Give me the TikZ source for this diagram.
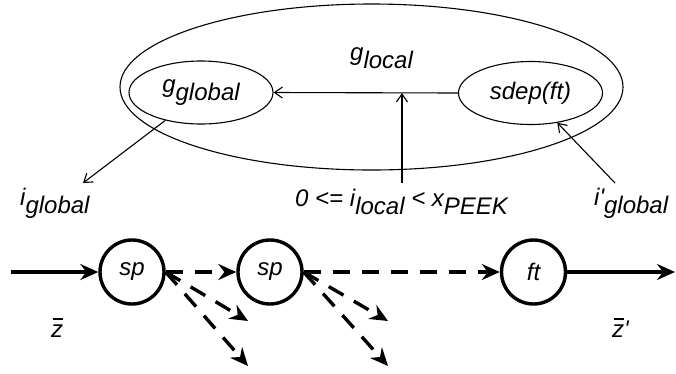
\documentclass[tikz,border=0pt]{standalone}
\usepackage{fontspec}
\setmainfont{Liberation Sans}
\usetikzlibrary{arrows.meta,shapes.geometric}
\newcommand\lowsub[1]{\raisebox{-8pt}{#1}}
\newcommand\barz{\makebox[0pt][l]{\hspace{1.5pt}\rule[17pt]{10.5pt}{2.2pt}}z}
\begin{document}
\begin{tikzpicture}[x=1pt,y=-1pt,
  txt/.style={font=\fontsize{24}{28}\selectfont\itshape, inner sep=0pt},
  oval/.style={draw, ellipse, line width=1.1pt, minimum width=144pt, minimum height=63pt, inner sep=0pt, font=\fontsize{24}{28}\selectfont\itshape},
  bigoval/.style={draw, ellipse, line width=1.1pt, minimum width=503pt, minimum height=166pt, inner sep=0pt},
  proc/.style={draw, circle, line width=3.4pt, minimum size=64pt, inner sep=0pt, font=\fontsize{24}{28}\selectfont\itshape},
  thinarrow/.style={line width=1.1pt, -{Straight Barb[length=8pt,width=11pt]}},
  thickarrow/.style={line width=3.4pt, -{Stealth[length=18pt,width=16pt,inset=6pt]}},
  dashedarrow/.style={thickarrow, dash pattern=on 17pt off 12pt},
]
\useasboundingbox (0,0) rectangle (676,373);

% top part
\node[bigoval] (glocal) at (371.5,87) {};
\node[txt, anchor=base west] (glocallabel) at (350,60) {g\lowsub{local}};
\node[oval] (gglobal) at (201,92.5) {g\lowsub{global}};
\node[oval] (sdep) at (530.5,93) {sdep(ft)};

\node[txt, anchor=base west] (iglobal) at (20,205) {i\lowsub{global}};
\node[txt, anchor=base west] (peek) at (295,206) {0 <= i\lowsub{local} < x\lowsub{PEEK}};
\node[txt, anchor=base west] (iprime) at (594,205) {i\textquotesingle\lowsub{global}};

\coordinate (peekfoot) at (402,183);
\coordinate (iglobaltip) at (83,183);
\coordinate (iprimefoot) at (615,183);

\draw[thinarrow] (sdep.west) -- (gglobal.east);
\draw[thinarrow] (peekfoot) -- (peekfoot |- sdep.west);
\draw[thinarrow] (gglobal.218) -- (iglobaltip);
\draw[thinarrow] (iprimefoot) -- (sdep.312);

% bottom part
\node[proc] (sp1) at (132,272) {sp};
\node[proc] (sp2) at (270,272) {sp};
\node[proc] (ft) at (533.5,272) {ft};

\node[txt, anchor=base west] (zin) at (51,337) {\barz};
\node[txt, anchor=base west] (zout) at (612,337) {\barz\textquotesingle};

\coordinate (in) at (11,272);
\coordinate (out) at (675,272);
\coordinate (b1a) at (248,321);
\coordinate (b1b) at (248,366);
\coordinate (b2a) at (388,321);
\coordinate (b2b) at (388,366);

\draw[thickarrow] (in) -- (sp1);
\draw[dashedarrow] (sp1) -- (sp2);
\draw[dashedarrow] (sp2) -- (ft);
\draw[thickarrow] (ft) -- (out);
\draw[dashedarrow] (sp1.east) -- (b1a);
\draw[dashedarrow] (sp1.east) -- (b1b);
\draw[dashedarrow] (sp2.east) -- (b2a);
\draw[dashedarrow] (sp2.east) -- (b2b);
\end{tikzpicture}
\end{document}
